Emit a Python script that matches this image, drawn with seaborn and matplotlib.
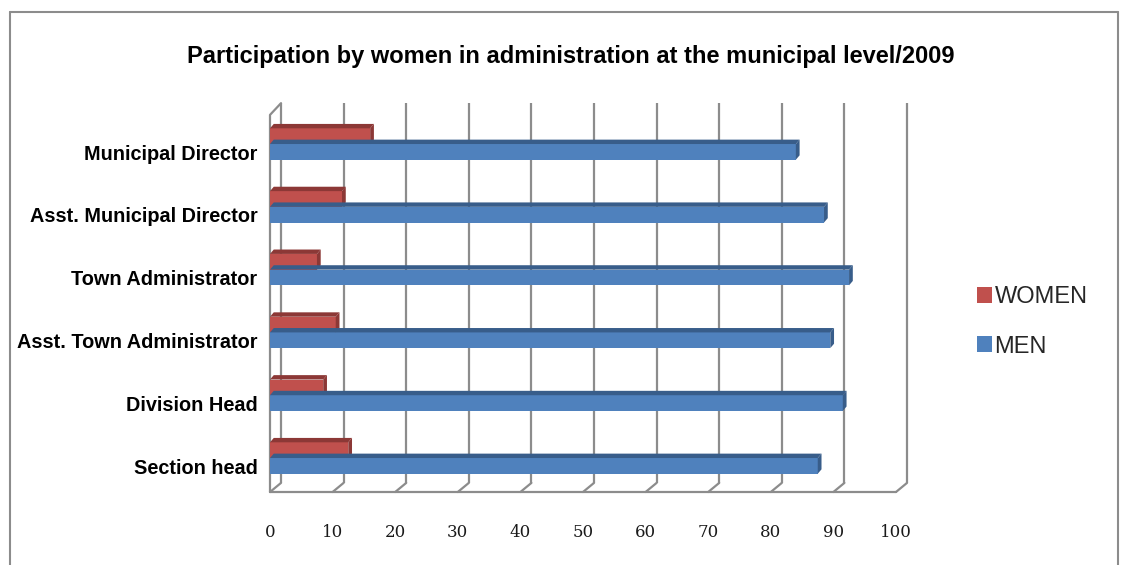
import matplotlib
matplotlib.use("Agg")
import matplotlib.pyplot as plt
import matplotlib.transforms as mtransforms
from matplotlib.lines import Line2D
from matplotlib.patches import Polygon
import seaborn as sns
import pandas as pd

categories = ["Municipal Director", "Asst. Municipal Director", "Town Administrator",
              "Asst. Town Administrator", "Division Head", "Section head"]
women = [16, 11.5, 7.5, 10.5, 8.5, 12.5]
men = [84, 88.5, 92.5, 89.5, 91.5, 87.5]
series = ["WOMEN", "MEN"]
colors = {"WOMEN": "#C0504D", "MEN": "#4F81BD"}
dark = {"WOMEN": "#8C3836", "MEN": "#385D8A"}
xticks = list(range(0, 101, 10))
title = "Participation by women in administration at the municipal level/2009"

df = pd.DataFrame({
    "category": categories * 2,
    "value": women + men,
    "gender": ["WOMEN"] * len(categories) + ["MEN"] * len(categories),
})

sns.set_theme(style="white")
plt.rcParams["font.family"] = ["Liberation Sans", "DejaVu Sans"]

W, H = 1126, 565
fig = plt.figure(figsize=(W / 100, H / 100), dpi=100)
ax = fig.add_axes([270 / W, 1 - 492 / H, 626 / W, 379 / H])

sns.barplot(data=df, y="category", x="value", hue="gender", hue_order=series,
            order=categories, orient="h", palette=colors, width=0.5,
            saturation=1, ax=ax, legend=False, linewidth=0)

ax.set_xlim(0, 100)
ax.set_ylim(5.541, -0.494)

# 3D-like depth on each bar (top face and right side)
dx, dy = 0.6, 0.07
for patch, g in zip(ax.patches, ["WOMEN"] * len(categories) + ["MEN"] * len(categories)):
    x0, y0 = patch.get_x(), patch.get_y()
    w, h = patch.get_width(), patch.get_height()
    top = Polygon([(x0, y0), (x0 + dx, y0 - dy), (x0 + w + dx, y0 - dy), (x0 + w, y0)],
                  closed=True, facecolor=dark[g], edgecolor="none", zorder=patch.get_zorder())
    side = Polygon([(x0 + w, y0), (x0 + w + dx, y0 - dy), (x0 + w + dx, y0 + h - dy), (x0 + w, y0 + h)],
                   closed=True, facecolor=dark[g], edgecolor="none", zorder=patch.get_zorder())
    ax.add_patch(top)
    ax.add_patch(side)

# 3D walls: back gridlines, floor and left wall
gc, glw = "#8C8C8C", 1.6
depth_x = 1.76          # horizontal depth offset in data units
back_y, top_y = 0.024, 1.026
xt = ax.get_xaxis_transform()
for t in xticks:
    ax.plot([t + depth_x, t + depth_x], [back_y, top_y], transform=xt, color=gc, lw=glw,
            clip_on=False, zorder=0.5, solid_capstyle="butt")
    ax.plot([t, t + depth_x], [0, back_y], transform=xt, color=gc, lw=glw,
            clip_on=False, zorder=0.5)
ax.plot([0, xticks[-1]], [0, 0], transform=xt, color=gc, lw=glw, clip_on=False, zorder=0.5)
ax.plot([0, 0, depth_x], [0, 0.995, top_y], transform=xt, color=gc, lw=glw, clip_on=False, zorder=0.5)

ax.set_xticks(xticks)
ax.set_xticklabels([str(t) for t in xticks], family=["DejaVu Serif"],
                   fontsize=12, color="#1a1a1a")
ax.tick_params(axis="x", length=0, pad=23)
ax.tick_params(axis="y", length=0, pad=9)
for lab in ax.get_yticklabels():
    lab.set_family(["Liberation Sans Narrow", "Liberation Sans", "DejaVu Sans"])
    lab.set_fontweight("bold")
    lab.set_fontsize(14.3)
    lab.set_color("black")
    lab.set_transform(lab.get_transform() + mtransforms.ScaledTranslation(0, -8 / 100, fig.dpi_scale_trans))

ax.set_xlabel("")
ax.set_ylabel("")
ax.grid(False)
for s in ax.spines.values():
    s.set_visible(False)

# legend
handles = [plt.Rectangle((0, 0), 1, 1, facecolor=colors[s], edgecolor="none") for s in series]
fig.legend(handles, series, loc="center left", bbox_to_anchor=(977 / W, 1 - 322 / H),
           frameon=False, fontsize=17, handlelength=0.64, handleheight=0.64,
           handletextpad=0.1, labelspacing=1.15, borderaxespad=0, borderpad=0)

fig.text(571 / W, 1 - 57 / H, title, ha="center", va="center",
         fontsize=17, fontweight="bold", color="black")

# chart border
bc = "#8C8C8C"
fig.add_artist(Line2D([10 / W, 10 / W], [0, 1 - 12 / H], transform=fig.transFigure, color=bc, linewidth=1.5))
fig.add_artist(Line2D([10 / W, 1118 / W], [1 - 12 / H, 1 - 12 / H], transform=fig.transFigure, color=bc, linewidth=1.5))
fig.add_artist(Line2D([1118 / W, 1118 / W], [1 - 12 / H, 0], transform=fig.transFigure, color=bc, linewidth=1.5))

fig.savefig("out.png", dpi=100)
